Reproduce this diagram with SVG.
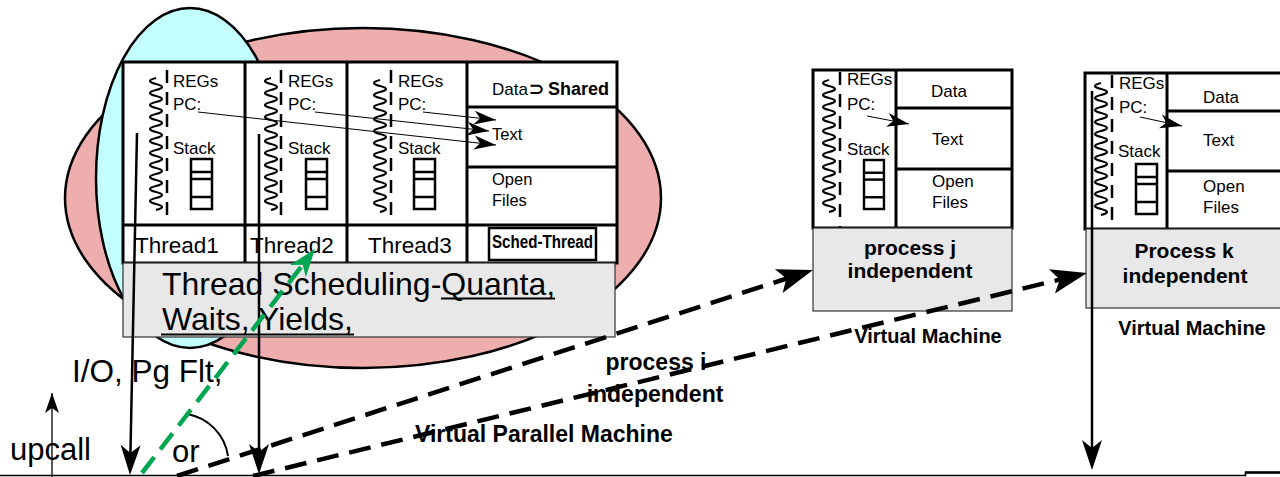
<svg xmlns="http://www.w3.org/2000/svg" xmlns:xlink="http://www.w3.org/1999/xlink" width="1280" height="477" viewBox="0 0 1280 477">
  <style>
    text { font-family: "Liberation Sans", Arial, sans-serif; fill: #000; }
    .b { font-weight: bold; }
    .uline { stroke: #000; stroke-width: 2; }
    .box { fill: #fff; stroke: #000; stroke-width: 3; }
    .ln { stroke: #000; stroke-width: 3; fill: none; }
    .gray { fill: #e8e8e8; stroke: #333; stroke-width: 1.2; }
    .dash { stroke: #000; stroke-width: 2.5; stroke-dasharray: 13 9; fill: none; }
    .wave { stroke: #000; stroke-width: 2.2; fill: none; }
    .thin { stroke: #000; stroke-width: 1; fill: none; }
    .sm { font-size: 17px; }
    .cell { font-size: 16.5px; }
    .vert { stroke: #000; stroke-width: 2.5; fill: none; }
    .bigdash { stroke: #000; stroke-width: 4.5; stroke-dasharray: 22 11; fill: none; }
    .green { stroke: #00a651; stroke-width: 4.5; stroke-dasharray: 20 10; fill: none; }
  </style>
  <defs>
    <!-- squiggle standing for a thread of control -->
    <path id="squiggle" class="wave" d="M0,0 q-12,3 0,6 q12,3 0,6 q-12,3 0,6 q12,3 0,6 q-12,3 0,6 q12,3 0,6 q-12,3 0,6 q12,3 0,6 q-12,3 0,6 q12,3 0,6 q-12,3 0,6 q12,3 0,6 q-12,3 0,6 q12,3 0,6 q-12,3 0,6 q12,3 0,6 q-12,3 0,6 q12,3 0,6 q-12,3 0,6 q12,3 0,6 q-12,3 0,6 q12,3 0,6"/>
    <!-- small stack of frames -->
    <g id="stack" fill="none" stroke="#000" stroke-width="2.5">
      <rect x="0" y="0" width="21" height="50"/>
      <line x1="0" y1="13" x2="21" y2="13"/>
      <line x1="0" y1="20" x2="21" y2="20"/>
      <line x1="0" y1="38" x2="21" y2="38"/>
    </g>
    <marker id="ahSmall" viewBox="-23 -8 24 16" refX="0" refY="0" markerWidth="24" markerHeight="16" markerUnits="userSpaceOnUse" orient="auto">
      <path d="M0,0 L-22,-7 L-16,0 L-22,7 Z" fill="#000"/>
    </marker>
    <marker id="ahMid" viewBox="-31 -11 32 22" refX="-20" refY="0" markerWidth="32" markerHeight="22" markerUnits="userSpaceOnUse" orient="auto">
      <path d="M0,0 L-30,-10 L-22,0 L-30,10 Z" fill="#000"/>
    </marker>
    <marker id="ahBig" viewBox="-37 -14 38 28" refX="-26" refY="0" markerWidth="38" markerHeight="28" markerUnits="userSpaceOnUse" orient="auto">
      <path d="M0,0 L-36,-12.5 L-28,0 L-36,12.5 Z" fill="#000"/>
    </marker>
    <marker id="ahGreen" viewBox="-29 -11 30 22" refX="-18" refY="0" markerWidth="30" markerHeight="22" markerUnits="userSpaceOnUse" orient="auto">
      <path d="M0,0 L-28,-10 L-20,0 L-28,10 Z" fill="#00a651"/>
    </marker>
    <marker id="ahUp" viewBox="-21 -8 22 16" refX="0" refY="0" markerWidth="22" markerHeight="16" markerUnits="userSpaceOnUse" orient="auto">
      <path d="M0,0 L-20,-7 L-15,0 L-20,7 Z" fill="#000"/>
    </marker>
  </defs>

  <rect width="1280" height="477" fill="#fff"/>

  <!-- address space and kernel thread outlines -->
  <g id="address-space">
    <ellipse cx="363" cy="198" rx="298" ry="170" fill="#efaeae" stroke="#000" stroke-width="2.5"/>
  </g>
  <g id="kernel-thread">
    <ellipse cx="190" cy="178" rx="94" ry="170" fill="#c4ffff" stroke="#000" stroke-width="2.5"/>
  </g>

  <!-- multithreaded process i -->
  <g id="process-i">
    <rect class="box" x="123" y="62" width="494" height="201"/>
    <line class="ln" x1="123" y1="225" x2="617" y2="225"/>
    <line class="ln" x1="245" y1="62" x2="245" y2="263"/>
    <line class="ln" x1="347" y1="62" x2="347" y2="263"/>
    <line class="ln" x1="467" y1="62" x2="467" y2="263"/>
    <line class="ln" x1="467" y1="107" x2="617" y2="107"/>
    <line class="ln" x1="467" y1="167" x2="617" y2="167"/>

    <g id="thread1">
      <use xlink:href="#squiggle" transform="translate(156,78)"/>
      <line class="dash" x1="167" y1="70" x2="167" y2="225"/>
      <text class="sm" x="173" y="87">REGs</text>
      <text class="sm" x="173" y="110">PC:</text>
      <text class="sm" x="173" y="154">Stack</text>
      <use xlink:href="#stack" transform="translate(191,159)"/>
      <text x="135" y="253" font-size="22.5">Thread1</text>
    </g>
    <g id="thread2">
      <use xlink:href="#squiggle" transform="translate(271,78)"/>
      <line class="dash" x1="281" y1="70" x2="281" y2="225"/>
      <text class="sm" x="288" y="87">REGs</text>
      <text class="sm" x="288" y="110">PC:</text>
      <text class="sm" x="288" y="154">Stack</text>
      <use xlink:href="#stack" transform="translate(306,159)"/>
      <text x="250" y="253" font-size="22.5">Thread2</text>
    </g>
    <g id="thread3">
      <use xlink:href="#squiggle" transform="translate(380,80)"/>
      <line class="dash" x1="391" y1="70" x2="391" y2="225"/>
      <text class="sm" x="398" y="87">REGs</text>
      <text class="sm" x="398" y="110">PC:</text>
      <text class="sm" x="398" y="154">Stack</text>
      <use xlink:href="#stack" transform="translate(414,159)"/>
      <text x="368" y="253" font-size="22.5">Thread3</text>
    </g>
    <g id="shared">
      <text x="492" y="95" font-size="17">Data</text>
      <text x="529" y="95" font-size="18" font-family="'DejaVu Sans', sans-serif" font-weight="bold">⊃</text>
      <text class="b" x="548" y="95" font-size="18">Shared</text>
      <text class="cell" x="492" y="140">Text</text>
      <text class="cell" x="492" y="185">Open</text>
      <text class="cell" x="492" y="206">Files</text>
    </g>
    <g id="sched-thread">
      <rect x="489" y="228" width="107" height="32" fill="none" stroke="#000" stroke-width="2.5"/>
      <text class="b" x="492" y="248" font-size="18" textLength="101" lengthAdjust="spacingAndGlyphs">Sched-Thread</text>
    </g>
    <g id="thread-scheduling">
      <rect class="gray" x="123" y="263" width="492" height="74"/>
      <text x="162" y="295" font-size="32">Thread Scheduling-Quanta,</text>
      <text x="162" y="330" font-size="32">Waits, Yields,</text>
      <line class="uline" x1="441" y1="298.5" x2="555" y2="298.5"/>
      <line class="uline" x1="161" y1="334.5" x2="354" y2="334.5"/>
    </g>
  </g>

  <!-- single-threaded process j -->
  <g id="process-j">
    <rect class="box" x="813" y="70" width="199" height="158"/>
    <line class="ln" x1="896" y1="70" x2="896" y2="228"/>
    <line class="ln" x1="896" y1="108" x2="1012" y2="108"/>
    <line class="ln" x1="896" y1="169" x2="1012" y2="169"/>
    <use xlink:href="#squiggle" transform="translate(829,80)"/>
    <line class="dash" x1="840" y1="72" x2="840" y2="228"/>
    <text class="sm" x="847" y="85">REGs</text>
    <text class="sm" x="847" y="110">PC:</text>
    <text class="sm" x="847" y="155">Stack</text>
    <g transform="translate(864,160) scale(0.95,0.98)"><use xlink:href="#stack"/></g>
    <text class="sm" x="931" y="97">Data</text>
    <text class="sm" x="932" y="145">Text</text>
    <text class="sm" x="932" y="187">Open</text>
    <text class="sm" x="932" y="208">Files</text>
    <line class="thin" x1="867" y1="116" x2="909" y2="124" marker-end="url(#ahSmall)"/>
    <rect class="gray" x="813" y="228" width="199" height="83"/>
    <text class="b" x="910" y="255" font-size="21" text-anchor="middle">process j</text>
    <text class="b" x="910" y="278" font-size="21" text-anchor="middle">independent</text>
    <text class="b" x="928" y="343" font-size="20" text-anchor="middle">Virtual Machine</text>
  </g>

  <!-- single-threaded process k -->
  <g id="process-k">
    <rect class="box" x="1085" y="73" width="210" height="156"/>
    <line class="ln" x1="1167" y1="73" x2="1167" y2="229"/>
    <line class="ln" x1="1167" y1="111" x2="1295" y2="111"/>
    <line class="ln" x1="1167" y1="171" x2="1295" y2="171"/>
    <use xlink:href="#squiggle" transform="translate(1101,83)"/>
    <line class="dash" x1="1112" y1="75" x2="1112" y2="229"/>
    <text class="sm" x="1119" y="89">REGs</text>
    <text class="sm" x="1119" y="113">PC:</text>
    <text class="sm" x="1118" y="157">Stack</text>
    <use xlink:href="#stack" transform="translate(1136,164)"/>
    <text class="sm" x="1203" y="103">Data</text>
    <text class="sm" x="1203" y="146">Text</text>
    <text class="sm" x="1203" y="192">Open</text>
    <text class="sm" x="1203" y="213">Files</text>
    <line class="thin" x1="1140" y1="117" x2="1182" y2="126" marker-end="url(#ahSmall)"/>
    <rect class="gray" x="1086" y="229" width="210" height="79"/>
    <text class="b" x="1184" y="258" font-size="21" text-anchor="middle">Process k</text>
    <text class="b" x="1185" y="283" font-size="21" text-anchor="middle">independent</text>
    <text class="b" x="1192" y="335" font-size="20" text-anchor="middle">Virtual Machine</text>
  </g>

  <!-- free-standing labels -->
  <g id="labels">
    <text x="72" y="382" font-size="31.5">I/O, Pg Flt,</text>
    <text x="10" y="460" font-size="31">upcall</text>
    <text x="172" y="462" font-size="31">or</text>
    <text class="b" x="656" y="370" font-size="23" text-anchor="middle">process i</text>
    <text class="b" x="655" y="402" font-size="23" text-anchor="middle">independent</text>
    <text class="b" x="415" y="442" font-size="23">Virtual Parallel Machine</text>
  </g>

  <!-- kernel boundary -->
  <g id="kernel-line">
    <path d="M0,475.5 H1245.5 V472.5 H1280" fill="none" stroke="#000" stroke-width="1.6"/>
    <line x1="1245" y1="472.5" x2="1280" y2="472.5" stroke="#000" stroke-width="2.6"/>
  </g>

  <!-- connectors -->
  <g id="connectors">
    <line class="thin" x1="198" y1="112" x2="496" y2="145" marker-end="url(#ahSmall)"/>
    <line class="thin" x1="315" y1="112" x2="489" y2="131" marker-end="url(#ahSmall)"/>
    <line class="thin" x1="423" y1="112" x2="496" y2="120" marker-end="url(#ahSmall)"/>

    <line class="vert" x1="137" y1="133" x2="130.4" y2="455" marker-end="url(#ahMid)"/>
    <line class="vert" x1="259" y1="134" x2="259" y2="454" marker-end="url(#ahMid)"/>
    <line class="vert" x1="1092" y1="91" x2="1092" y2="450" marker-end="url(#ahMid)"/>

    <line x1="52" y1="477" x2="52" y2="393" stroke="#000" stroke-width="1.3" marker-end="url(#ahUp)"/>

    <path d="M187,414 A50,50 0 0 1 228,456" fill="none" stroke="#000" stroke-width="2"/>

    <line class="bigdash" x1="177" y1="476" x2="788.3" y2="278" marker-end="url(#ahBig)"/>
    <line class="bigdash" x1="253" y1="476" x2="1061.7" y2="279.1" marker-end="url(#ahBig)"/>
    <line class="green" x1="142" y1="473" x2="304" y2="263.2" marker-end="url(#ahGreen)"/>
  </g>
</svg>
